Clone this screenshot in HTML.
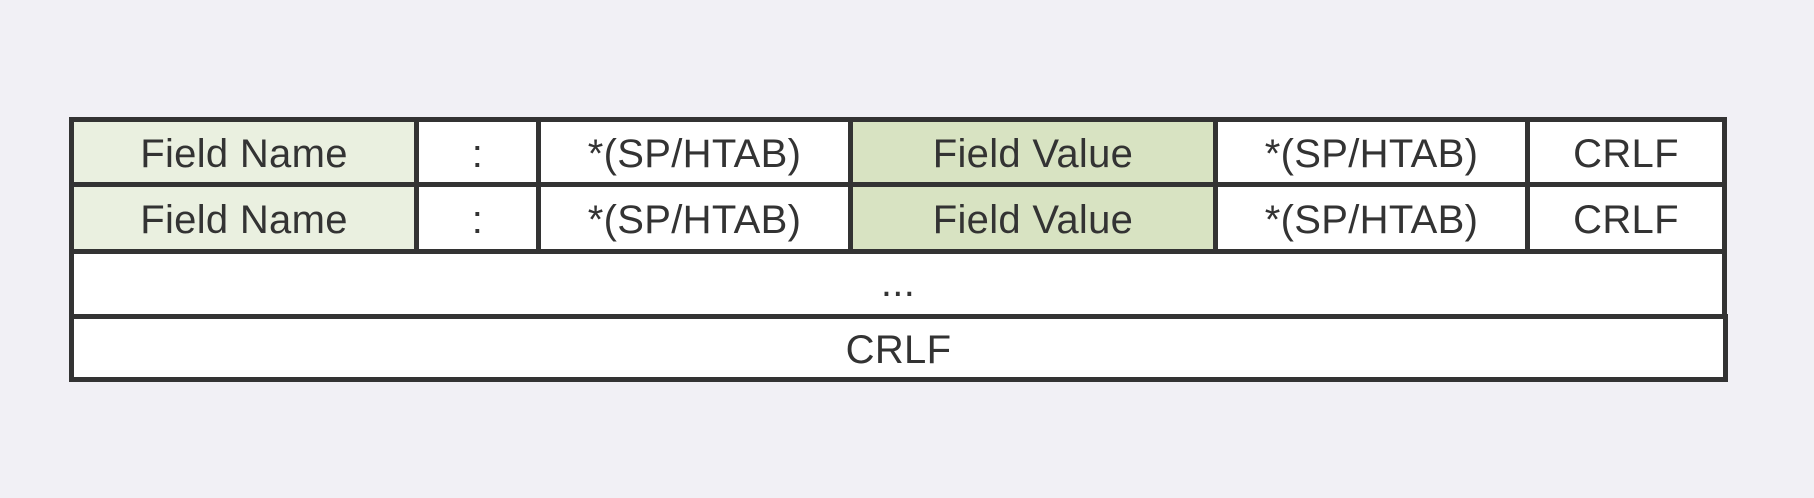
<!DOCTYPE html>
<html><head><meta charset="utf-8"><style>
body{margin:0;width:1814px;height:498px;background:#f1f0f5;position:relative;overflow:hidden;font-family:"Liberation Sans",sans-serif;}
.c{position:absolute;box-sizing:border-box;border:5px solid #333;display:flex;align-items:center;justify-content:center;font-size:40px;color:#333;background:#fff;padding-top:5px;letter-spacing:0.3px}
.n{background:#eaf0e0}.v{background:#d8e3c2}
</style></head><body>
<div class="c n" style="left:69px;top:117px;width:350px;height:70px">Field Name</div>
<div class="c" style="left:414px;top:117px;width:127px;height:70px">:</div>
<div class="c" style="left:536px;top:117px;width:317px;height:70px">*(SP/HTAB)</div>
<div class="c v" style="left:848px;top:117px;width:370px;height:70px">Field Value</div>
<div class="c" style="left:1213px;top:117px;width:317px;height:70px">*(SP/HTAB)</div>
<div class="c" style="left:1525px;top:117px;width:202px;height:70px">CRLF</div>

<div class="c n" style="left:69px;top:182px;width:350px;height:72px">Field Name</div>
<div class="c" style="left:414px;top:182px;width:127px;height:72px">:</div>
<div class="c" style="left:536px;top:182px;width:317px;height:72px">*(SP/HTAB)</div>
<div class="c v" style="left:848px;top:182px;width:370px;height:72px">Field Value</div>
<div class="c" style="left:1213px;top:182px;width:317px;height:72px">*(SP/HTAB)</div>
<div class="c" style="left:1525px;top:182px;width:202px;height:72px">CRLF</div>

<div class="c" style="left:69px;top:249px;width:1658px;height:70px;align-items:flex-end;padding-bottom:8px">...</div>
<div class="c" style="left:69px;top:314px;width:1659px;height:68px">CRLF</div>
</body></html>
